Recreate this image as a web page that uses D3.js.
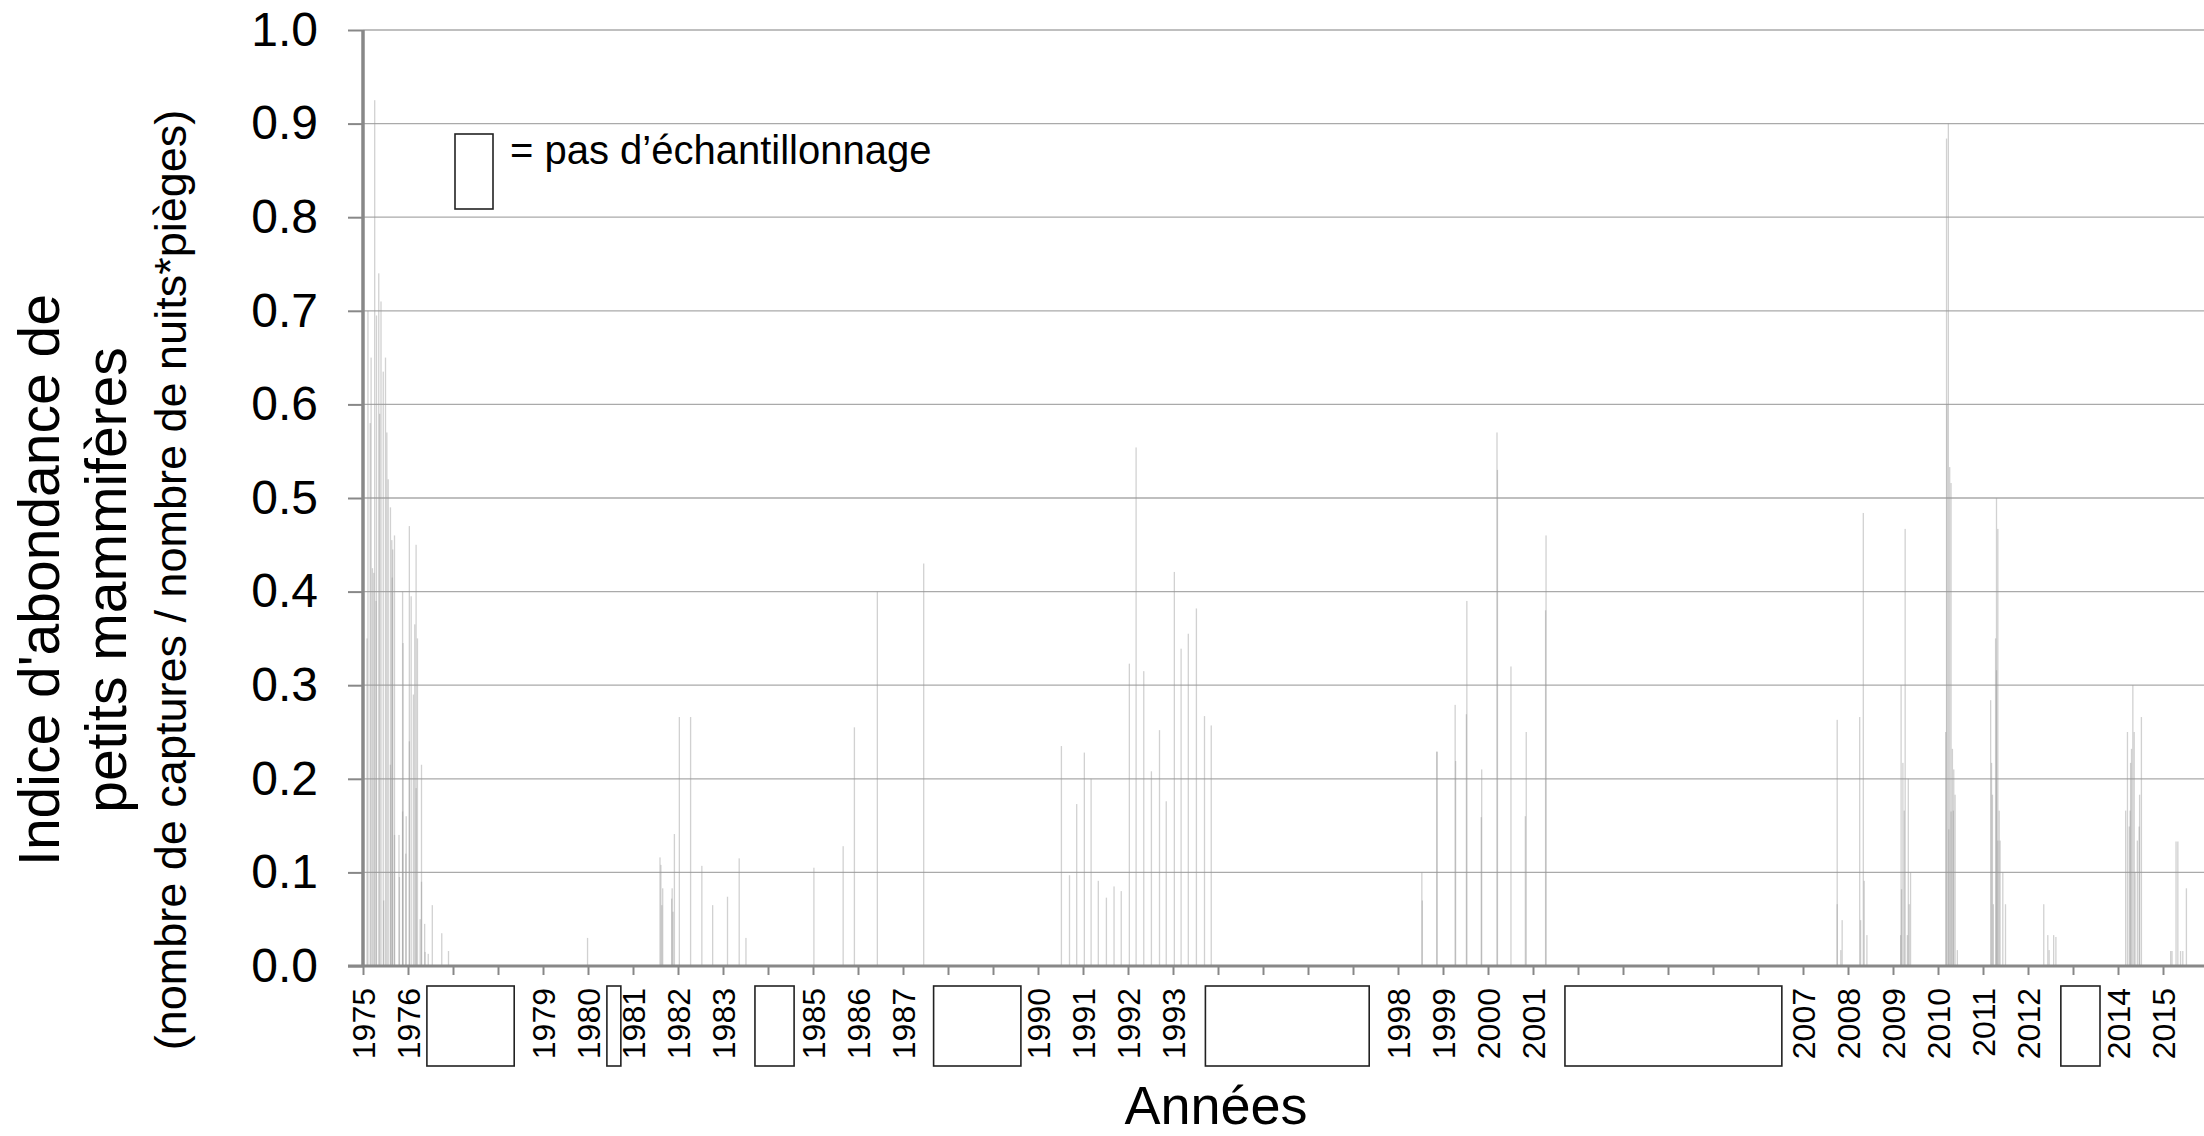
<!DOCTYPE html>
<html>
<head>
<meta charset="utf-8">
<script src="https://cdn.jsdelivr.net/npm/d3@7"></script>
<style>
  body { margin: 0; background: #fff; }
  svg { display: block; font-family: 'Liberation Sans', Arial, sans-serif; }
</style>
</head>
<body>
<svg id="chart"></svg>
<script>
// tick labels
const yearTicks = d3.range(1975, 2016);
const yTicks = [0, 0.1, 0.2, 0.3, 0.4, 0.5, 0.6, 0.7, 0.8, 0.9, 1.0];

// periods without sampling [start, end] (decimal years)
const noSampling = [
  [1976.42, 1978.36], [1980.42, 1980.73], [1983.71, 1984.58], [1987.68, 1989.62],
  [1993.72, 1997.36], [2001.71, 2006.53], [2012.73, 2013.60]
];

// abundance index per sampling session [decimal year, value]
const abundance1975_76 = [
  [1975.09, 0.35], [1975.11, 0.70], [1975.16, 0.58], [1975.18, 0.65], [1975.21, 0.425],
  [1975.24, 0.42], [1975.26, 0.925], [1975.29, 0.39], [1975.30, 0.695], [1975.35, 0.74],
  [1975.37, 0.59], [1975.40, 0.71], [1975.45, 0.635], [1975.46, 0.07], [1975.50, 0.65],
  [1975.53, 0.57], [1975.56, 0.52], [1975.61, 0.49], [1975.61, 0.215], [1975.64, 0.455],
  [1975.65, 0.415], [1975.66, 0.445], [1975.70, 0.46], [1975.70, 0.14], [1975.80, 0.14],
  [1975.81, 0.095], [1975.88, 0.40], [1975.88, 0.165], [1975.89, 0.345], [1975.96, 0.16],
  [1975.95, 0.12], [1976.03, 0.47], [1976.03, 0.24], [1976.07, 0.395], [1976.12, 0.29],
  [1976.15, 0.365], [1976.18, 0.45], [1976.18, 0.19], [1976.21, 0.35], [1976.27, 0.05],
  [1976.30, 0.215], [1976.30, 0.09], [1976.37, 0.045], [1976.38, 0.015], [1976.45, 0.013],
  [1976.54, 0.065], [1976.75, 0.035], [1976.90, 0.016]
];
const abundance1979_87 = [
  [1979.99, 0.03], [1981.60, 0.116], [1981.62, 0.108], [1981.64, 0.065], [1981.66, 0.083],
  [1981.86, 0.072], [1981.87, 0.083], [1981.89, 0.058], [1981.92, 0.141], [1982.03, 0.266],
  [1982.28, 0.266], [1982.53, 0.107], [1982.77, 0.065], [1983.10, 0.074], [1983.36, 0.115],
  [1983.51, 0.03], [1985.02, 0.105], [1985.67, 0.128], [1985.92, 0.255], [1986.43, 0.40],
  [1987.46, 0.43]
];
const abundance1990_93 = [
  [1990.52, 0.235], [1990.70, 0.097], [1990.86, 0.173], [1991.03, 0.228], [1991.18, 0.20],
  [1991.34, 0.091], [1991.52, 0.073], [1991.69, 0.085], [1991.85, 0.08], [1992.03, 0.323],
  [1992.18, 0.554], [1992.35, 0.315], [1992.52, 0.208], [1992.70, 0.252], [1992.85, 0.176],
  [1993.03, 0.421], [1993.18, 0.339], [1993.34, 0.355], [1993.52, 0.382], [1993.70, 0.267],
  [1993.85, 0.257]
];
const abundance1998_01 = [
  [1998.53, 0.10], [1998.54, 0.07], [1998.86, 0.229], [1998.87, 0.229], [1999.27, 0.279],
  [1999.28, 0.219], [1999.52, 0.269], [1999.53, 0.39], [1999.85, 0.159], [1999.86, 0.21],
  [2000.20, 0.57], [2000.21, 0.53], [2000.51, 0.32], [2000.83, 0.16], [2000.85, 0.25],
  [2001.28, 0.38], [2001.29, 0.46]
];
const abundance2007_15 = [
  [2007.76, 0.263], [2007.76, 0.066], [2007.84, 0.017], [2007.87, 0.049], [2008.26, 0.266],
  [2008.28, 0.049], [2008.34, 0.484], [2008.36, 0.091], [2008.42, 0.033], [2009.17, 0.033],
  [2009.18, 0.30], [2009.19, 0.082], [2009.22, 0.217], [2009.25, 0.166], [2009.27, 0.467],
  [2009.32, 0.033], [2009.34, 0.20], [2009.36, 0.066], [2009.39, 0.10], [2010.17, 0.25],
  [2010.19, 0.884], [2010.20, 0.60], [2010.23, 0.90], [2010.24, 0.146], [2010.26, 0.533],
  [2010.29, 0.516], [2010.29, 0.165], [2010.32, 0.232], [2010.34, 0.166], [2010.35, 0.21],
  [2010.38, 0.183], [2010.43, 0.017], [2011.17, 0.284], [2011.19, 0.217], [2011.21, 0.183],
  [2011.23, 0.066], [2011.28, 0.35], [2011.30, 0.50], [2011.30, 0.316], [2011.33, 0.134],
  [2011.33, 0.467], [2011.36, 0.166], [2011.38, 0.134], [2011.44, 0.10], [2011.50, 0.066],
  [2012.35, 0.066], [2012.44, 0.033], [2012.47, 0.017], [2012.57, 0.033], [2012.62, 0.031],
  [2014.17, 0.166], [2014.21, 0.25], [2014.25, 0.149], [2014.27, 0.166], [2014.28, 0.217],
  [2014.30, 0.232], [2014.33, 0.30], [2014.36, 0.25], [2014.38, 0.10], [2014.43, 0.134],
  [2014.47, 0.149], [2014.48, 0.183], [2014.52, 0.266], [2015.17, 0.016], [2015.20, 0.016],
  [2015.29, 0.133], [2015.33, 0.133], [2015.39, 0.016], [2015.44, 0.016], [2015.52, 0.083]
];

const samples = [].concat(abundance1975_76, abundance1979_87, abundance1990_93,
  abundance1998_01, abundance2007_15);

const width = 2204;
const height = 1136;
const margin = { top: 30, left: 363, bottom: 170 };

const svg = d3.select('#chart').attr('width', width).attr('height', height);

const x = d3.scaleLinear().domain([1975, 2016]).range([margin.left, 2208]);
const y = d3.scaleLinear().domain([0, 1]).range([height - margin.bottom, margin.top]);

const font = "'Liberation Sans', Arial, sans-serif";

// grid
svg.append('g')
  .selectAll('line')
  .data(yTicks.slice(1))
  .join('line')
  .attr('x1', margin.left).attr('x2', width)
  .attr('y1', d => y(d)).attr('y2', d => y(d))
  .attr('stroke', '#aaaaaa').attr('stroke-width', 1.3);

// bars
svg.append('g')
  .attr('fill', '#9a9a9a')
  .attr('fill-opacity', 0.45)
  .selectAll('rect')
  .data(samples)
  .join('rect')
  .attr('x', d => x(d[0]) - 0.65)
  .attr('width', 1.3)
  .attr('y', d => y(d[1]))
  .attr('height', d => y(0) - y(d[1]));

// y axis
svg.append('g')
  .attr('transform', `translate(${margin.left},0)`)
  .call(d3.axisLeft(y).tickValues(yTicks).tickSize(15).tickPadding(30).tickFormat(d3.format('.1f')))
  .call(g => g.select('.domain').remove())
  .call(g => g.selectAll('.tick line').attr('stroke', '#888').attr('stroke-width', 2))
  .call(g => g.selectAll('.tick text')
    .attr('font-family', font).attr('font-size', 48).attr('fill', '#000'));

svg.append('line')
  .attr('x1', margin.left).attr('x2', margin.left)
  .attr('y1', y(1)).attr('y2', y(0))
  .attr('stroke', '#888').attr('stroke-width', 3.5);

// x axis
svg.append('g')
  .attr('transform', `translate(0,${y(0)})`)
  .call(d3.axisBottom(x).tickValues(yearTicks).tickSize(9).tickFormat(d3.format('d')))
  .call(g => g.select('.domain').remove())
  .call(g => g.selectAll('.tick line').attr('stroke', '#888').attr('stroke-width', 2))
  .call(g => g.selectAll('.tick text')
    .attr('font-family', font).attr('font-size', 32).attr('fill', '#000')
    .attr('x', 0).attr('y', 0).attr('dy', '0.35em')
    .attr('text-anchor', 'end')
    .attr('transform', 'translate(0,22) rotate(-90)'));

svg.append('line')
  .attr('x1', margin.left - 15).attr('x2', width)
  .attr('y1', y(0)).attr('y2', y(0))
  .attr('stroke', '#888').attr('stroke-width', 3);

// no-sampling boxes over the hidden year labels
svg.append('g')
  .selectAll('rect')
  .data(noSampling)
  .join('rect')
  .attr('x', d => x(d[0]))
  .attr('width', d => x(d[1]) - x(d[0]))
  .attr('y', 986)
  .attr('height', 80)
  .attr('fill', '#fff')
  .attr('stroke', '#222')
  .attr('stroke-width', 1.6);

// legend
svg.append('rect')
  .attr('x', 455).attr('y', 134).attr('width', 38).attr('height', 75)
  .attr('fill', '#fff').attr('stroke', '#222').attr('stroke-width', 1.6);
svg.append('text')
  .attr('x', 510).attr('y', 164)
  .attr('font-family', font).attr('font-size', 40)
  .text('= pas d’échantillonnage');

// axis titles
svg.append('text')
  .attr('x', 1216).attr('y', 1124)
  .attr('text-anchor', 'middle')
  .attr('font-family', font).attr('font-size', 54)
  .text('Années');

const yTitle = [
  { text: "Indice d'abondance de", x: 59, size: 57 },
  { text: 'petits mammifères', x: 126, size: 57 },
  { text: '(nombre de captures / nombre de nuits*pièges)', x: 186, size: 45 }
];
svg.append('g')
  .selectAll('text')
  .data(yTitle)
  .join('text')
  .attr('transform', d => `translate(${d.x},580) rotate(-90)`)
  .attr('text-anchor', 'middle')
  .attr('font-family', font)
  .attr('font-size', d => d.size)
  .text(d => d.text);
</script>
</body>
</html>
